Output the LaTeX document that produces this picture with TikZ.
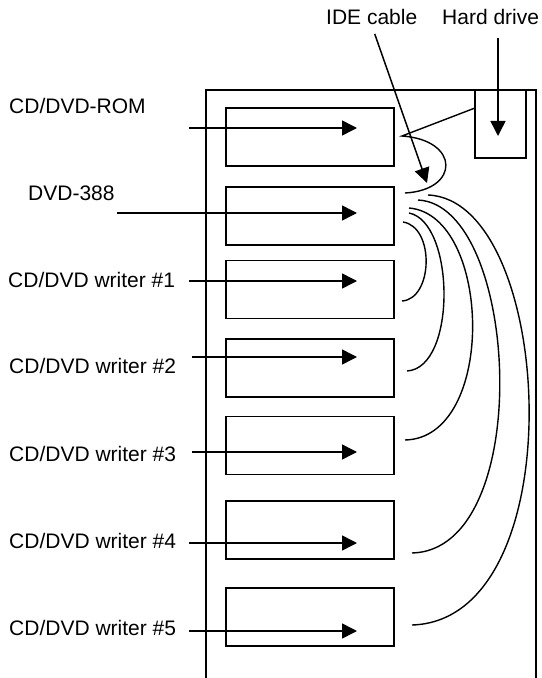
\documentclass[tikz,border=0pt]{standalone}
\usepackage{fontspec}
\setmainfont{Liberation Sans}
\usetikzlibrary{arrows.meta}

\tikzset{
  drive/.style={draw, line width=1.6bp, minimum width=168bp, minimum height=58bp, inner sep=0pt},
  bay/.style={line width=1.6bp},
  feed/.style={line width=1.5bp, -{Triangle[length=15bp, width=15bp]}},
  wire/.style={line width=1.4bp},
  lbl/.style={inner sep=0pt, anchor=base west, font=\fontsize{21bp}{25bp}\selectfont},
}

\begin{document}
\begin{tikzpicture}[x=1bp, y=-1bp]
  \useasboundingbox (0,0) rectangle (542,678);

  % the case, open at the bottom
  \draw[bay] (206,678) -- (206,90) -- (536,90) -- (536,678);

  % drives in the bays
  \node[drive] (rom) at (310,137)   {};
  \node[drive] (dvd) at (310,216)   {};
  \node[drive] (w1)  at (310,289.5) {};
  \node[drive] (w2)  at (310,368)   {};
  \node[drive] (w3)  at (310,445.5) {};
  \node[drive] (w4)  at (310,530)   {};
  \node[drive] (w5)  at (310,617)   {};
  \node[drive, minimum width=51bp, minimum height=68bp] (hdd) at (500.5,124) {};

  % labels
  \node[lbl] (rom-lbl) at (9,114)  {CD/DVD-ROM};
  \node[lbl] (dvd-lbl) at (28,200) {DVD-388};
  \node[lbl] (w1-lbl)  at (8,287)  {CD/DVD writer \#1};
  \node[lbl] (w2-lbl)  at (9,373)  {CD/DVD writer \#2};
  \node[lbl] (w3-lbl)  at (9,461)  {CD/DVD writer \#3};
  \node[lbl] (w4-lbl)  at (9,548)  {CD/DVD writer \#4};
  \node[lbl] (w5-lbl)  at (9,635)  {CD/DVD writer \#5};
  \node[lbl] (ide-lbl) at (326,25) {IDE cable};
  \node[lbl] (hdd-lbl) at (442,25) {Hard drive};

  % pointers into the drives
  \coordinate (rom-from) at (189,128);
  \coordinate (dvd-from) at (117,213);
  \coordinate (w1-from)  at (189,281);
  \coordinate (w2-from)  at (192,357);
  \coordinate (w3-from)  at (192,452);
  \coordinate (w4-from)  at (189,543);
  \coordinate (w5-from)  at (189,631);
  \coordinate (tips)     at (357,0);
  \draw[feed] (rom-from) -- (rom-from -| tips);
  \draw[feed] (dvd-from) -- (dvd-from -| tips);
  \draw[feed] (w1-from)  -- (w1-from -| tips);
  \draw[feed] (w2-from)  -- (w2-from -| tips);
  \draw[feed] (w3-from)  -- (w3-from -| tips);
  \draw[feed] (w4-from)  -- (w4-from -| tips);
  \draw[feed] (w5-from)  -- (w5-from -| tips);

  \coordinate (hdd-from) at (498,38);
  \coordinate (hdd-tip)  at (498,136);
  \draw[feed] (hdd-from) -- (hdd-tip);

  % the IDE cable loop from the hard drive
  \coordinate (hdd-port)  at (475,108);
  \coordinate (loop-top)  at (402,136);
  \coordinate (loop-end)  at (405,193);
  \coordinate (ide-tip)   at (427,183);
  \draw[wire] (hdd-port) -- (loop-top)
    .. controls (460,140) and (460,190) .. (loop-end);
  \draw[feed, shorten <=9bp] (ide-lbl.south) -- (ide-tip);

  % cables down to the writers
  \coordinate (w1-a) at (403,222);  \coordinate (w1-b) at (402,301);
  \coordinate (w2-a) at (409,213);  \coordinate (w2-b) at (407,371);
  \coordinate (w3-a) at (409,208);  \coordinate (w3-b) at (405,440);
  \coordinate (w4-a) at (418,200);  \coordinate (w4-b) at (412,553);
  \coordinate (w5-a) at (428,195);  \coordinate (w5-b) at (412,625);
  \draw[wire] (w1-a) .. controls (435,227) and (433,299) .. (w1-b);
  \draw[wire] (w2-a) .. controls (455,222) and (457,368) .. (w2-b);
  \draw[wire] (w3-a) .. controls (492,215) and (497,438) .. (w3-b);
  \draw[wire] (w4-a) .. controls (520,205) and (536,550) .. (w4-b);
  \draw[wire] (w5-a) .. controls (555,200) and (576,620) .. (w5-b);
\end{tikzpicture}
\end{document}
